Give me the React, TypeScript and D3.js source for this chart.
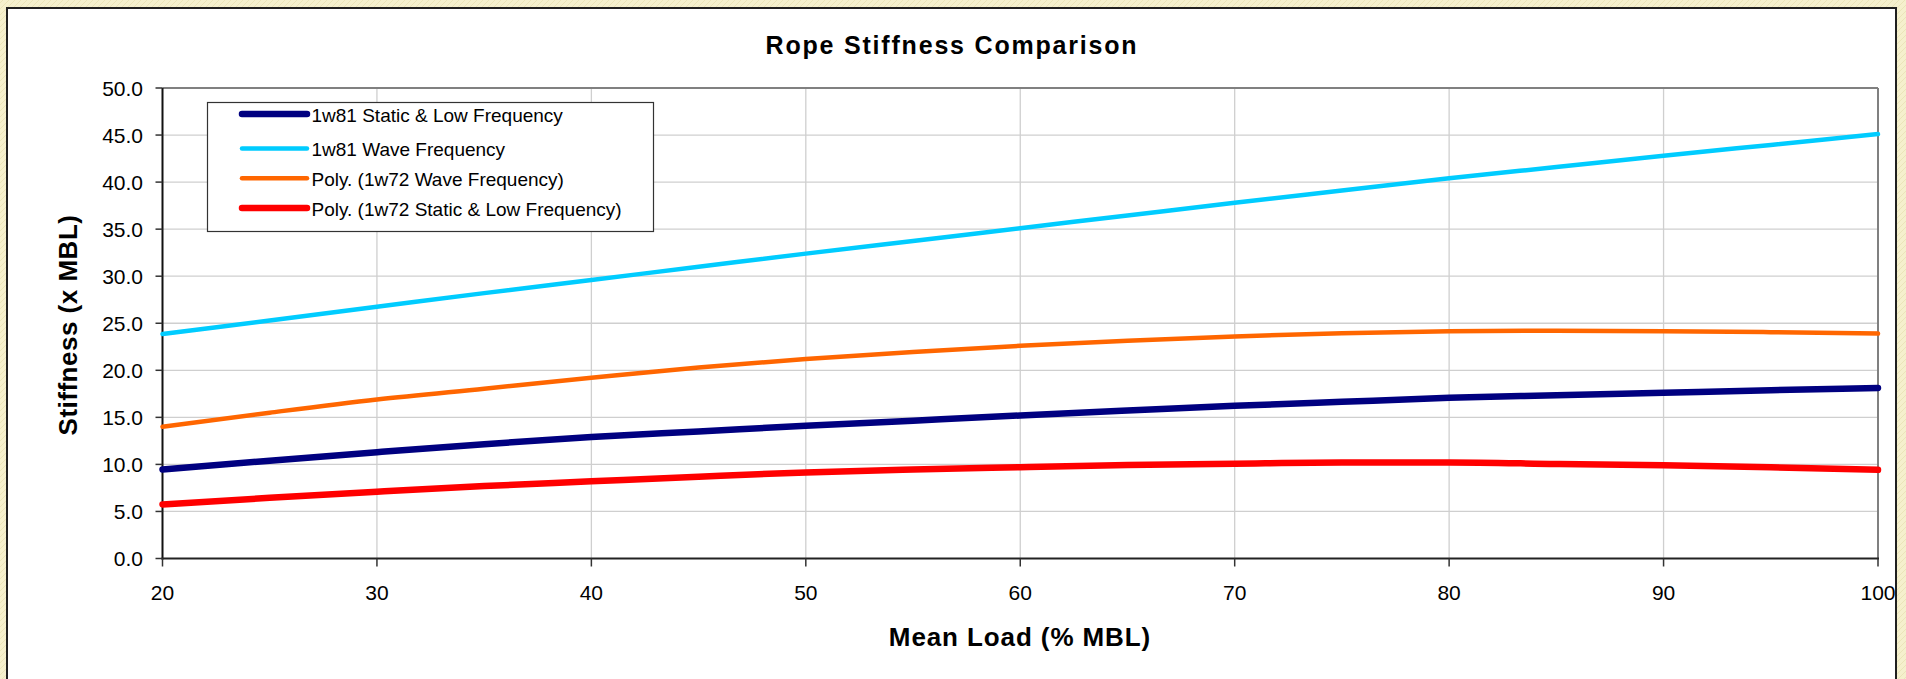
import React from "react";
import * as d3 from "d3";

// Mean load (% MBL) at which each curve is sampled
const loads = [20, 25, 30, 35, 40, 45, 50, 55, 60, 65, 70, 75, 80, 85, 90, 95, 100];

// Stiffness (x MBL) per series
const static1w81 = [9.47, 10.4, 11.3, 12.15, 12.9, 13.5, 14.1, 14.65, 15.2, 15.72, 16.22, 16.65, 17.07, 17.35, 17.62, 17.88, 18.12];
const wave1w81 = [23.85, 25.3, 26.75, 28.2, 29.6, 31.0, 32.4, 33.75, 35.1, 36.45, 37.8, 39.1, 40.4, 41.6, 42.8, 43.95, 45.1];
const wave1w72 = [14.0, 15.5, 16.9, 18.05, 19.2, 20.3, 21.2, 21.95, 22.6, 23.15, 23.6, 23.95, 24.15, 24.2, 24.15, 24.05, 23.9];
const static1w72 = [5.75, 6.45, 7.1, 7.7, 8.2, 8.7, 9.15, 9.45, 9.7, 9.93, 10.08, 10.2, 10.2, 10.05, 9.9, 9.7, 9.42];

const seriesNames = [
  "1w81 Static & Low Frequency",
  "1w81 Wave Frequency",
  "Poly. (1w72 Wave Frequency)",
  "Poly. (1w72 Static & Low Frequency)",
];
const seriesValues = [static1w81, wave1w81, wave1w72, static1w72];
const seriesColors = ["#000080", "#00ccff", "#ff6600", "#ff0000"];
const seriesWidths = [6.5, 4.5, 4.5, 6.5];

const yTicks = [0, 5, 10, 15, 20, 25, 30, 35, 40, 45, 50];
const xTicks = [20, 30, 40, 50, 60, 70, 80, 90, 100];

const W = 1906;
const H = 679;
const plot = { left: 162.5, right: 1878, top: 88, bottom: 558.5 };
const FONT = "'Liberation Sans', Arial, Helvetica, sans-serif";

export default function App() {
  const x = d3.scaleLinear().domain([20, 100]).range([plot.left, plot.right]);
  const y = d3.scaleLinear().domain([0, 50]).range([plot.bottom, plot.top]);
  const fmtY = d3.format(".1f");

  const line = d3
    .line<[number, number]>()
    .x((d) => x(d[0]))
    .y((d) => y(d[1]))
    .curve(d3.curveMonotoneX);

  const legend = { x: 207.5, y: 102.5, w: 446, h: 129 };
  const legendRows = [114, 148.5, 178.3, 208];

  return (
    <div style={{ position: "absolute", left: 0, top: 0 }}>
      <svg width={W} height={H} viewBox={`0 0 ${W} ${H}`} style={{ display: "block" }}>
        <defs>
          <pattern id="parchment" width="6" height="6" patternUnits="userSpaceOnUse">
            <rect width="6" height="6" fill="#f5f0cd" />
            <path d="M0 3 L3 0 M3 6 L6 3" stroke="#ebe4b9" strokeWidth="1" />
          </pattern>
        </defs>

        {/* page background and chart area */}
        <rect x={0} y={0} width={W} height={H} fill="url(#parchment)" />
        <rect x={7} y={8} width={1889} height={700} fill="#ffffff" stroke="#1f1f1f" strokeWidth={2} />

        {/* title */}
        <text
          x={952}
          y={54}
          textAnchor="middle"
          fontFamily={FONT}
          fontWeight="bold"
          fontSize={25}
          style={{ letterSpacing: "1.8px" }}
          fill="#000"
        >
          Rope Stiffness Comparison
        </text>

        {/* gridlines */}
        {yTicks
          .filter((t) => t > 0 && t < 50)
          .map((t) => (
            <line key={`gy${t}`} x1={plot.left} x2={plot.right} y1={y(t)} y2={y(t)} stroke="#cfcfcf" strokeWidth={1.3} />
          ))}
        {xTicks
          .filter((t) => t > 20 && t < 100)
          .map((t) => (
            <line key={`gx${t}`} x1={x(t)} x2={x(t)} y1={plot.top} y2={plot.bottom} stroke="#cfcfcf" strokeWidth={1.3} />
          ))}

        {/* plot frame: grey top/right, black axes */}
        <line x1={plot.left} x2={plot.right} y1={plot.top} y2={plot.top} stroke="#808080" strokeWidth={2} />
        <line x1={plot.right} x2={plot.right} y1={plot.top} y2={plot.bottom} stroke="#808080" strokeWidth={2} />
        <line x1={plot.left} x2={plot.left} y1={plot.top} y2={plot.bottom + 1} stroke="#111" strokeWidth={2} />
        <line x1={plot.left - 1} x2={plot.right + 1} y1={plot.bottom} y2={plot.bottom} stroke="#222" strokeWidth={2} />

        {/* y ticks and labels */}
        {yTicks.map((t) => (
          <g key={`ty${t}`}>
            <line x1={plot.left - 7} x2={plot.left} y1={y(t)} y2={y(t)} stroke="#333" strokeWidth={1.5} />
            <text
              x={143}
              y={y(t)}
              dy="0.36em"
              textAnchor="end"
              fontFamily={FONT}
              fontSize={21}
              fill="#000"
            >
              {fmtY(t)}
            </text>
          </g>
        ))}

        {/* x ticks and labels */}
        {xTicks.map((t) => (
          <g key={`tx${t}`}>
            <line x1={x(t)} x2={x(t)} y1={plot.bottom} y2={plot.bottom + 8} stroke="#333" strokeWidth={1.5} />
            <text x={x(t)} y={599.5} textAnchor="middle" fontFamily={FONT} fontSize={21} fill="#000">
              {t}
            </text>
          </g>
        ))}

        {/* axis titles */}
        <text
          x={1020}
          y={646}
          textAnchor="middle"
          fontFamily={FONT}
          fontWeight="bold"
          fontSize={26}
          style={{ letterSpacing: "0.9px" }}
          fill="#000"
        >
          Mean Load (% MBL)
        </text>
        <text
          transform="translate(77,325) rotate(-90)"
          textAnchor="middle"
          fontFamily={FONT}
          fontWeight="bold"
          fontSize={26}
          style={{ letterSpacing: "0.5px" }}
          fill="#000"
        >
          Stiffness (x MBL)
        </text>

        {/* series */}
        {seriesValues.map((vals, i) => (
          <path
            key={`s${i}`}
            d={line(loads.map((l, j) => [l, vals[j]] as [number, number])) || ""}
            fill="none"
            stroke={seriesColors[i]}
            strokeWidth={seriesWidths[i]}
            strokeLinejoin="round"
            strokeLinecap="round"
          />
        ))}

        {/* legend */}
        <rect x={legend.x} y={legend.y} width={legend.w} height={legend.h} fill="#ffffff" stroke="#333" strokeWidth={1.2} />
        {seriesNames.map((name, i) => (
          <g key={`lg${i}`}>
            <line
              x1={242}
              x2={307}
              y1={legendRows[i]}
              y2={legendRows[i]}
              stroke={seriesColors[i]}
              strokeWidth={seriesWidths[i]}
              strokeLinecap="round"
            />
            <text x={311.5} y={legendRows[i] + 1} dy="0.36em" fontFamily={FONT} fontSize={19} fill="#000">
              {name}
            </text>
          </g>
        ))}
      </svg>
    </div>
  );
}
